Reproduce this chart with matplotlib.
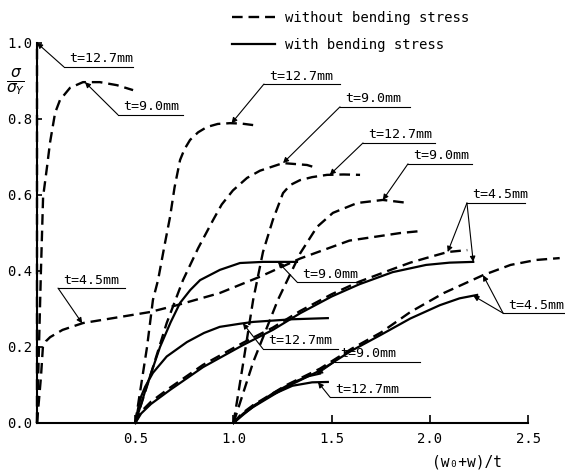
import numpy as np
import matplotlib
matplotlib.use("Agg")
import matplotlib.pyplot as plt

plt.rcParams['font.family'] = ['DejaVu Sans Mono']

# ---- curves: (w0+w)/t vs sigma/sigma_Y ----
# x0 = 0 group (dashed only)
d_0_127_x = [0.0, 0.0]
d_0_127_y = [0.0, 1.0]
d_0_9_x = [0.0, 0.01, 0.02, 0.031, 0.051, 0.066, 0.092, 0.117, 0.168, 0.234, 0.32, 0.407, 0.489]
d_0_9_y = [0.0, 0.2, 0.4, 0.595, 0.674, 0.737, 0.816, 0.85, 0.882, 0.897, 0.897, 0.889, 0.876]
d_0_45_x = [0.0, 0.01, 0.02, 0.03, 0.045, 0.067, 0.13, 0.234, 0.387, 0.575, 0.712, 0.93, 1.135, 1.34, 1.59, 1.85, 1.95]
d_0_45_y = [0.0, 0.06, 0.12, 0.2, 0.215, 0.226, 0.245, 0.263, 0.276, 0.292, 0.31, 0.342, 0.385, 0.433, 0.48, 0.5, 0.505]

# x0 = 0.5 group
d_05_127_x = [0.5, 0.53, 0.56, 0.59, 0.616, 0.65, 0.677, 0.70, 0.728, 0.75, 0.779, 0.82, 0.865, 0.92, 0.982, 1.04, 1.10]
d_05_127_y = [0.0, 0.1, 0.2, 0.324, 0.376, 0.47, 0.542, 0.62, 0.692, 0.72, 0.745, 0.765, 0.779, 0.787, 0.789, 0.788, 0.784]
d_05_9_x = [0.5, 0.58, 0.66, 0.743, 0.82, 0.896, 0.94, 0.997, 1.069, 1.135, 1.252, 1.374, 1.425]
d_05_9_y = [0.0, 0.13, 0.263, 0.376, 0.46, 0.534, 0.575, 0.612, 0.645, 0.664, 0.684, 0.679, 0.671]
d_05_45_x = [0.5, 0.53, 0.58, 0.677, 0.845, 1.048, 1.2, 1.34, 1.5, 1.64, 1.81, 1.9, 1.98, 2.09, 2.19]
d_05_45_y = [0.0, 0.03, 0.056, 0.093, 0.153, 0.211, 0.251, 0.295, 0.339, 0.372, 0.405, 0.422, 0.434, 0.45, 0.455]
s_05_9_x = [0.5, 0.53, 0.56, 0.626, 0.68, 0.728, 0.78, 0.83, 0.931, 1.033, 1.15, 1.23, 1.323]
s_05_9_y = [0.0, 0.05, 0.1, 0.2, 0.265, 0.316, 0.35, 0.376, 0.403, 0.421, 0.424, 0.424, 0.424]
s_05_127_x = [0.5, 0.515, 0.53, 0.55, 0.59, 0.66, 0.763, 0.85, 0.93, 1.03, 1.1, 1.3, 1.48]
s_05_127_y = [0.0, 0.04, 0.07, 0.095, 0.132, 0.175, 0.213, 0.237, 0.253, 0.261, 0.266, 0.273, 0.276]
s_05_45_x = [0.5, 0.53, 0.58, 0.677, 0.845, 1.048, 1.2, 1.34, 1.5, 1.64, 1.81, 1.98, 2.1, 2.22]
s_05_45_y = [0.0, 0.025, 0.05, 0.087, 0.147, 0.205, 0.245, 0.289, 0.333, 0.365, 0.397, 0.416, 0.422, 0.424]

# x0 = 1.0 group
d_1_127_x = [1.0, 1.05, 1.1, 1.15, 1.2, 1.23, 1.252, 1.288, 1.338, 1.4, 1.476, 1.56, 1.644]
d_1_127_y = [0.0, 0.16, 0.324, 0.45, 0.534, 0.575, 0.605, 0.626, 0.639, 0.647, 0.653, 0.654, 0.653]
d_1_9_x = [1.0, 1.1, 1.226, 1.34, 1.425, 1.506, 1.63, 1.76, 1.89]
d_1_9_y = [0.0, 0.16, 0.324, 0.447, 0.516, 0.553, 0.579, 0.587, 0.579]
d_1_45_x = [1.0, 1.04, 1.1, 1.27, 1.44, 1.6, 1.75, 1.9, 2.07, 2.27, 2.41, 2.54, 2.66]
d_1_45_y = [0.0, 0.024, 0.047, 0.1, 0.143, 0.195, 0.238, 0.292, 0.342, 0.389, 0.416, 0.429, 0.434]
s_1_45_x = [1.0, 1.04, 1.1, 1.27, 1.44, 1.6, 1.75, 1.9, 2.05, 2.15, 2.24]
s_1_45_y = [0.0, 0.02, 0.042, 0.095, 0.138, 0.19, 0.232, 0.275, 0.31, 0.328, 0.337]
s_1_127_x = [1.0, 1.05, 1.1, 1.2, 1.3, 1.4, 1.48]
s_1_127_y = [0.0, 0.025, 0.045, 0.075, 0.098, 0.107, 0.108]
s_1_9_x = [1.0, 1.05, 1.1, 1.2, 1.3, 1.38, 1.44]
s_1_9_y = [0.0, 0.022, 0.043, 0.078, 0.106, 0.123, 0.13]

dashed = {
    'd_0_127': (d_0_127_x, d_0_127_y), 'd_0_9': (d_0_9_x, d_0_9_y), 'd_0_45': (d_0_45_x, d_0_45_y),
    'd_05_127': (d_05_127_x, d_05_127_y), 'd_05_9': (d_05_9_x, d_05_9_y), 'd_05_45': (d_05_45_x, d_05_45_y),
    'd_1_127': (d_1_127_x, d_1_127_y), 'd_1_9': (d_1_9_x, d_1_9_y), 'd_1_45': (d_1_45_x, d_1_45_y),
}
solid = {
    's_05_9': (s_05_9_x, s_05_9_y), 's_05_127': (s_05_127_x, s_05_127_y), 's_05_45': (s_05_45_x, s_05_45_y),
    's_1_45': (s_1_45_x, s_1_45_y), 's_1_127': (s_1_127_x, s_1_127_y), 's_1_9': (s_1_9_x, s_1_9_y),
}
curves = {**dashed, **solid}

# labels: text, underline x0, x1, y, [(curve, x on curve or None for end)]
labels = [
    ('t=12.7mm', 0.137, 0.489, 0.937, [('d_0_127', None)]),
    ('t=9.0mm', 0.412, 0.743, 0.811, [('d_0_9', 0.244)]),
    ('t=12.7mm', 1.155, 1.542, 0.892, [('d_05_127', 0.99)]),
    ('t=9.0mm', 1.542, 1.898, 0.832, [('d_05_9', 1.252)]),
    ('t=12.7mm', 1.659, 2.025, 0.737, [('d_1_127', 1.49)]),
    ('t=9.0mm', 1.888, 2.214, 0.682, [('d_1_9', 1.76)]),
    ('t=4.5mm', 2.188, 2.483, 0.579, [('d_05_45', 2.09), ('s_05_45', 2.22)]),
    ('t=4.5mm', 2.372, 2.687, 0.289, [('d_1_45', 2.27), ('s_1_45', 2.22)]),
    ('t=4.5mm', 0.107, 0.448, 0.355, [('d_0_45', 0.23)]),
    ('t=9.0mm', 1.323, 1.654, 0.371, [('s_05_9', 1.226)]),
    ('t=12.7mm', 1.15, 1.532, 0.195, [('s_05_127', 1.048)]),
    ('t=9.0mm', 1.517, 1.949, 0.161, [('s_1_9', 1.425)]),
    ('t=12.7mm', 1.491, 2.0, 0.068, [('s_1_127', 1.43)]),
]

fig = plt.figure(figsize=(5.65, 4.71), dpi=100)
ax = fig.add_axes([37 / 565, 48 / 471, 2.68 * 196.5 / 565, 1.1 * 380 / 471])
ax.set_xlim(0, 2.68)
ax.set_ylim(0, 1.1)

first = True
for name, (xs, ys) in dashed.items():
    ax.plot(xs, ys, color='black', lw=1.7, linestyle=(0, (4.5, 2.5)),
            label='without bending stress' if first else None, clip_on=False)
    first = False
first = True
for name, (xs, ys) in solid.items():
    ax.plot(xs, ys, color='black', lw=1.6,
            label='with bending stress' if first else None, clip_on=False)
    first = False

for text, ux0, ux1, uy, targets in labels:
    ax.plot([ux0, ux1], [uy, uy], color='black', lw=0.8, clip_on=False)
    ax.text(ux0 + 0.025, uy + 0.004, text, fontsize=9.5, ha='left', va='bottom')
    for cname, tx in targets:
        xs, ys = curves[cname]
        if tx is None:
            pt = (xs[-1], ys[-1])
        else:
            pt = (tx, float(np.interp(tx, xs, ys)))
        ax.annotate('', xy=pt, xytext=(ux0, uy),
                    arrowprops=dict(arrowstyle='-|>', color='black', lw=0.8,
                                    mutation_scale=8, shrinkA=0, shrinkB=0))

ax.legend(loc='upper left', bbox_to_anchor=(232 / 565, 1 - 11 / 471), bbox_transform=fig.transFigure,
          frameon=False, fontsize=10, handlelength=3.1, handletextpad=0.7, labelspacing=0.95,
          borderpad=0, borderaxespad=0)

for s in ['top', 'right']:
    ax.spines[s].set_visible(False)
ax.spines['left'].set_bounds(0, 1.0)
ax.spines['bottom'].set_bounds(0, 2.5)
ax.spines['left'].set_linewidth(1.5)
ax.spines['bottom'].set_linewidth(1.5)

ax.set_xticks([0.5, 1.0, 1.5, 2.0, 2.5])
ax.set_xticklabels(['0.5', '1.0', '1.5', '2.0', '2.5'])
ax.set_yticks([0.0, 0.2, 0.4, 0.6, 0.8, 1.0])
ax.set_yticklabels(['0.0', '0.2', '0.4', '0.6', '0.8', '1.0'])
ax.tick_params(axis='x', direction='in', length=6, width=1.2, pad=6.5, labelsize=10)
ax.tick_params(axis='y', direction='in', length=3.5, width=1.2, pad=3.5, labelsize=10)

fig.text(16 / 565, 1 - 82 / 471, r'$\frac{\sigma}{\sigma_Y}$', fontsize=16, ha='center', va='center')
fig.text(467 / 565, 1 - 462 / 471, '(w\u2080+w)/t', fontsize=10.5, ha='center', va='center')

fig.savefig('out.png', dpi=100)
